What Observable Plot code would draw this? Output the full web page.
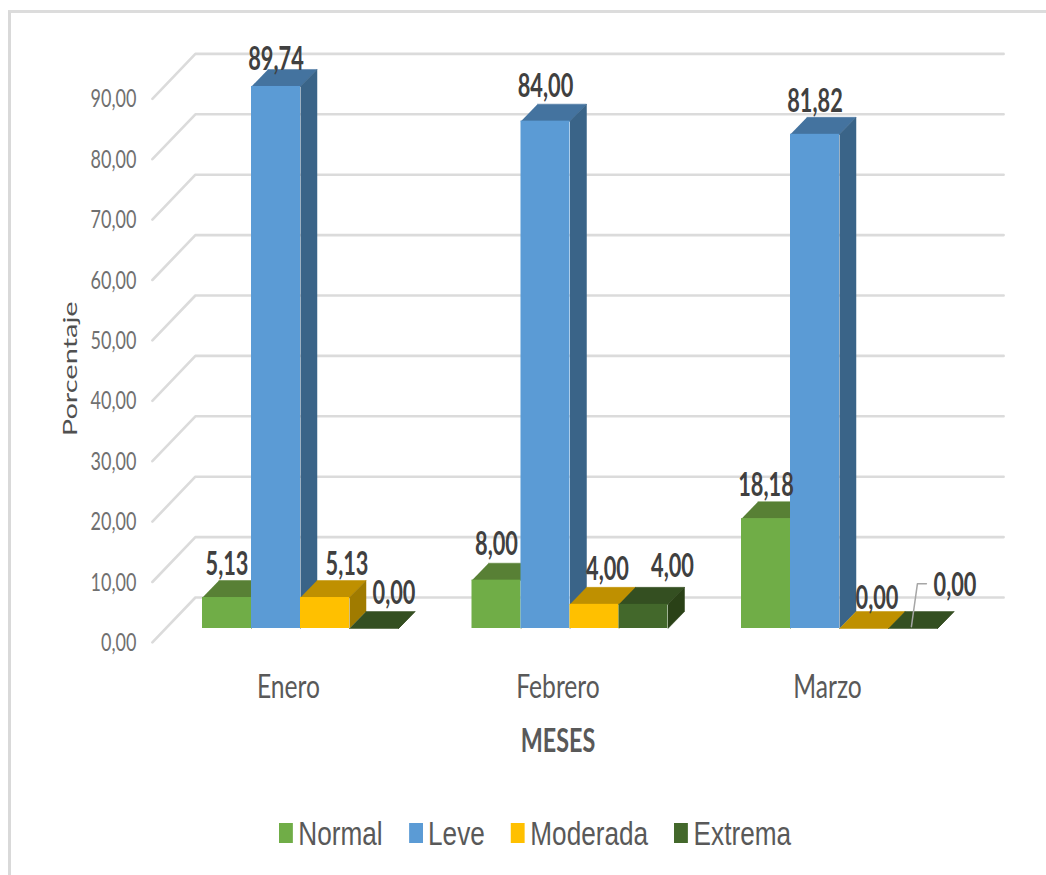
<!DOCTYPE html>
<html lang="es">
<head>
<meta charset="utf-8">
<title>Porcentaje por mes</title>
<script src="https://cdn.jsdelivr.net/npm/d3@7"></script>
<script src="https://cdn.jsdelivr.net/npm/@observablehq/plot@0.6"></script>
<style>
  html, body { margin: 0; padding: 0; background: #fff; overflow: hidden; }
  #page { position: relative; width: 1046px; height: 875px; }
  #frame { position: absolute; left: 8px; top: 10px; right: 0; bottom: 0;
           border-top: 3px solid #dcdcdc; border-left: 3px solid #d9d9d9; }
  #chart { position: absolute; left: 0; top: 0; }
  #legend { position: absolute; left: 279px; top: 809px; height: 48px; display: flex;
            align-items: center; transform: scaleX(0.77); transform-origin: left center;
            font: 34px "Liberation Sans", Arial, sans-serif; color: #595959; white-space: nowrap; }
  #legend .swatch { width: 18px; height: 20px; margin-right: 7px; flex: none; }
  #legend .entry { display: flex; align-items: center; margin-right: 34px; }
</style>
</head>
<body>
<div id="page">
  <div id="frame"></div>
  <div id="chart"></div>
  <div id="legend"></div>
</div>
<script>
// Values per severity, one entry per month
const months = ["Enero", "Febrero", "Marzo"];
const series = ["Normal", "Leve", "Moderada", "Extrema"];
const normal = [5.13, 8.00, 18.18];
const leve = [89.74, 84.00, 81.82];
const moderada = [5.13, 4.00, 0.00];
const extrema = [0.00, 4.00, 0.00];
const yTicks = [0, 10, 20, 30, 40, 50, 60, 70, 80, 90];

// Colours of the front, top and side faces of each severity's columns
const frontColors = ["#70AD47", "#5B9BD5", "#FFC000", "#43682B"];
const topColors = ["#588035", "#44739F", "#BF9000", "#344F21"];
const sideColors = ["#4C6F2E", "#3A6488", "#A07B00", "#2A4117"];

// Data-label nudges in pixels, by month then severity
const labelShiftX = [[0, 0, 22, 20], [0, 0, 13, 29], [0, 0, 13, 42]];
const labelShiftY = [[33, 27, 33, 35], [35, 34, 35, 38], [33, 33, 30, 43]];

// Projection of the pseudo-3D box, in scale units
const pxPerMonth = 269.5;
const pxPerValue = 6.04;
const barWidth = 49 / pxPerMonth;
const depthX = 16.5 / pxPerMonth;
const depthY = 17 / pxPerValue;
const wallLeft = -0.39;
const wallRight = 2.609;
const floorFront = -2.3;
const floorBack = 5.13;
const floorSlant = 43 / pxPerMonth;

const values = [normal, leve, moderada, extrema];
const comma = (v) => v.toFixed(2).replace(".", ",");

// Narrows (or widens) drawn text along its own baseline
const squeeze = (k) => (index, scales, vals, dims, context, next) => {
  const g = next(index, scales, vals, dims, context);
  g.querySelectorAll("text").forEach((t) => {
    t.setAttribute("transform", `${t.getAttribute("transform") || ""} scale(${k},1)`);
  });
  return g;
};

const bars = series.map((name, s) => months.map((month, m) => {
  const x1 = m - 2 * barWidth + s * barWidth;
  return {name, s, m, x1, x2: x1 + barWidth, v: values[s][m]};
}));

// One closed outline for the top and one for the side of a column
const faces = (row) => row.flatMap((b) => [
  ...[[b.x1, b.v], [b.x2, b.v], [b.x2 + depthX, b.v + depthY], [b.x1 + depthX, b.v + depthY]]
    .map(([x, y]) => ({x, y, id: `top-${b.m}`, color: topColors[b.s]})),
  ...[[b.x2, 0], [b.x2 + depthX, depthY], [b.x2 + depthX, b.v + depthY], [b.x2, b.v]]
    .map(([x, y]) => ({x, y, id: `side-${b.m}`, color: sideColors[b.s]}))
]);

const gridLines = yTicks.flatMap((v) => [
  {x: wallLeft - floorSlant, y: v + floorFront, v},
  {x: wallLeft, y: v + floorBack, v},
  {x: wallRight, y: v + floorBack, v}
]);

const columnMarks = bars.flatMap((row) => [
  Plot.line(faces(row), {x: "x", y: "y", z: "id", fill: "color", stroke: "color", strokeWidth: 0.5}),
  Plot.rect(row, {x1: "x1", x2: "x2", y1: 0, y2: "v", fill: frontColors[row[0].s], inset: 0})
]);

const labels = bars.flat().map((b) => ({
  text: comma(b.v),
  x: (b.x1 + b.x2) / 2 + labelShiftX[b.m][b.s] / pxPerMonth,
  y: b.v + labelShiftY[b.m][b.s] / pxPerValue
}));

// Leader line of the last Extrema label
const leaderBar = bars[3][2];
const leaderCenter = (leaderBar.x1 + leaderBar.x2) / 2;
const leader = [[-1.6, 0.3], [4.4, 7.4], [13.4, 7.4]]
  .map(([x, y]) => ({x: leaderCenter + x / pxPerMonth, y}));

const chart = Plot.plot({
  width: 1046,
  height: 800,
  marginLeft: 165.25,
  marginRight: 72.25,
  marginTop: 24,
  marginBottom: 172,
  style: {background: "transparent"},
  x: {domain: [-0.5, 2.5], axis: null},
  y: {domain: [0, 100], axis: null},
  color: {type: "identity"},
  marks: [
    Plot.line(gridLines, {x: "x", y: "y", z: "v", stroke: "#DBDBDB", strokeWidth: 2.6}),
    Plot.text(yTicks, {
      x: wallLeft - floorSlant - 16 / pxPerMonth, y: (v) => v + floorFront - 0.1, text: comma,
      textAnchor: "end", fontFamily: "Lato", fontSize: 25, fill: "#707070", render: squeeze(0.72)
    }),
    ...columnMarks,
    Plot.line(leader, {x: "x", y: "y", stroke: "#A6A6A6", strokeWidth: 1.5}),
    Plot.text(labels, {
      x: "x", y: "y", text: "text", fontFamily: "Lato", fontSize: 32, fontWeight: 700,
      fill: "#404040", render: squeeze(0.68)
    }),
    Plot.text(months, {
      x: (d, i) => i - 12 / pxPerMonth, y: -9.77, text: (d) => d,
      fontFamily: "Lato", fontSize: 32, fill: "#595959", render: squeeze(0.77)
    }),
    Plot.text(["MESES"], {
      x: 1 - 12 / pxPerMonth, y: -18.7, text: (d) => d,
      fontFamily: "Lato", fontSize: 32, fontWeight: 700, fill: "#595959", render: squeeze(0.73)
    }),
    Plot.text(["Porcentaje"], {
      x: -0.853, y: 43, text: (d) => d, rotate: -90,
      fontFamily: "Lato", fontSize: 20, fill: "#505050", render: squeeze(1.45)
    })
  ]
});
document.getElementById("chart").append(chart);

// Legend row under the chart
const legend = document.getElementById("legend");
series.forEach((name, s) => {
  const entry = document.createElement("span");
  entry.className = "entry";
  const swatch = document.createElement("span");
  swatch.className = "swatch";
  swatch.style.background = frontColors[s];
  entry.append(swatch, name);
  legend.append(entry);
});
</script>
</body>
</html>
